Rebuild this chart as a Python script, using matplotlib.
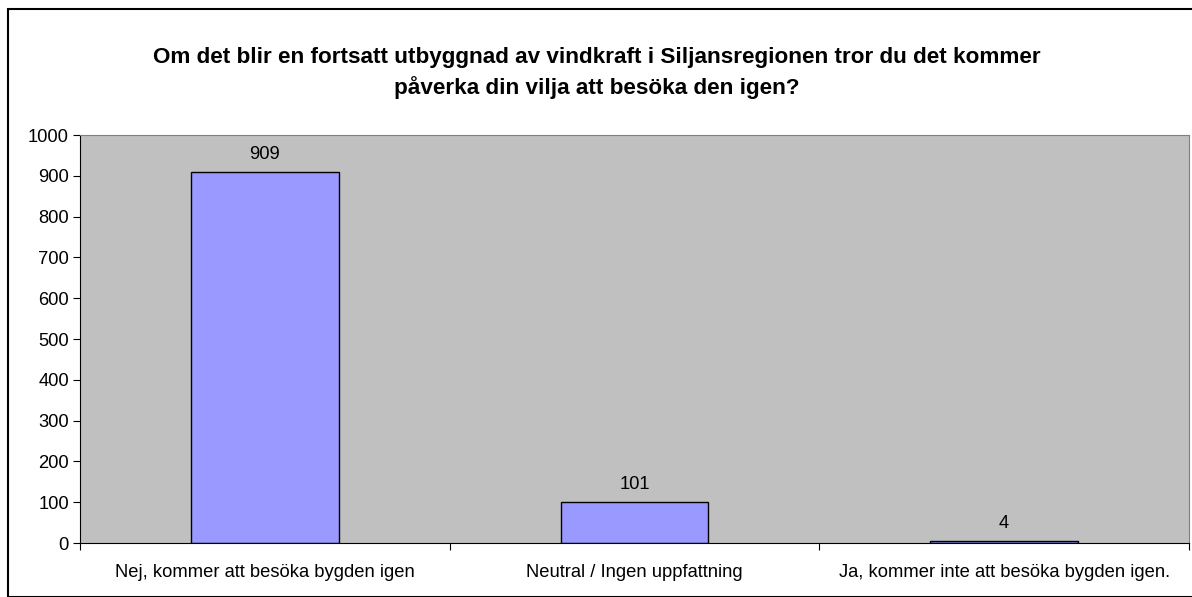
import matplotlib.pyplot as plt
import matplotlib.patches as patches
import numpy as np

categories = ['Nej, kommer att besöka bygden igen',
              'Neutral / Ingen uppfattning',
              'Ja, kommer inte att besöka bygden igen.']
values = [909, 101, 4]
yticks = list(range(0, 1001, 100))

plt.rcParams['font.family'] = ['Liberation Sans', 'DejaVu Sans']

W, H = 1192, 597
fig = plt.figure(figsize=(W / 100, H / 100), dpi=100)

# outer frame of the chart
fig.patches.append(patches.Rectangle((8 / W, 0), 1.5, 1 - 9 / H, transform=fig.transFigure,
                                     fill=False, edgecolor='black', linewidth=1.5))

ax = fig.add_axes([80 / W, 1 - 543 / H, (1189 - 80) / W, (543 - 135) / H])
ax.set_facecolor('#c0c0c0')

x = np.arange(len(values))
bars = ax.bar(x, values, width=0.4, color='#9999ff', edgecolor='black', linewidth=1)
for xi, v in zip(x, values):
    ax.text(xi, v + 22, str(v), ha='center', va='bottom', fontsize=13.2)

ax.set_xlim(-0.5, len(values) - 0.5)
ax.set_ylim(0, 1000)
ax.set_yticks(yticks)
ax.tick_params(axis='y', direction='out', length=5, labelsize=13.2, pad=3)
ax.set_xticks(np.arange(-0.5, len(values), 1.0))
ax.set_xticklabels([])
ax.set_xticks(x, minor=True)
ax.set_xticklabels(categories, minor=True, fontsize=13.2)
ax.tick_params(axis='x', which='major', direction='out', length=5)
ax.tick_params(axis='x', which='minor', length=0, pad=15)

for s in ['top', 'right']:
    ax.spines[s].set_color('#808080')
for s in ['left', 'bottom']:
    ax.spines[s].set_color('black')

fig.text(597 / W, 1 - 58 / H, 'Om det blir en fortsatt utbyggnad av vindkraft i Siljansregionen tror du det kommer',
         ha='center', va='center', fontsize=16.2, fontweight='bold')
fig.text(597 / W, 1 - 88 / H, 'påverka din vilja att besöka den igen?',
         ha='center', va='center', fontsize=16.2, fontweight='bold')

fig.savefig('out.png', dpi=100)
